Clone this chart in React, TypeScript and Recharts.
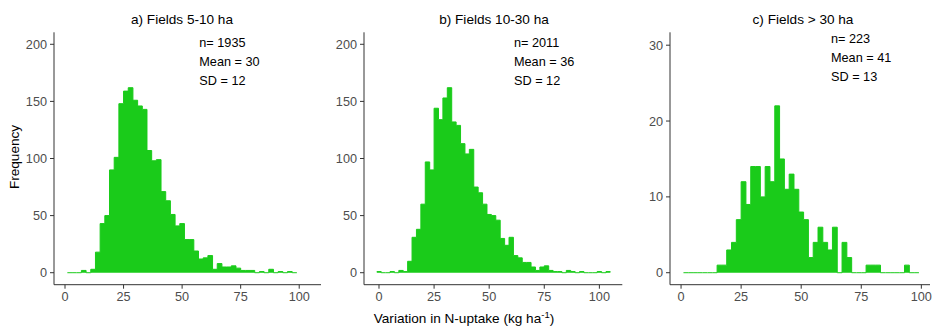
import React from 'react';
import { AreaChart, Area, XAxis, YAxis } from 'recharts';

const WIDTH = 933;
const HEIGHT = 328;
const BIN_WIDTH = 2;
const FONT = '"Liberation Sans", Arial, Helvetica, sans-serif';
const BAR_FILL = '#1acb1a';

// Histogram counts per 2 kg/ha bin, listed from the first bin centre upward.
// a) Fields 5-10 ha: bin centres 2, 4, ..., 98
const smallFirstCentre = 2;
const smallCounts = [
  0, 0, 0, 2, 0, 3, 18, 43, 50, 90,
  101, 148, 159, 162, 151, 146, 143, 107, 98, 99,
  71, 63, 51, 41, 43, 29, 29, 19, 12, 13,
  15, 3, 8, 5, 5, 6, 4, 2, 2, 2,
  0, 1, 0, 3, 0, 1, 0, 1, 0,
];

// b) Fields 10-30 ha: bin centres 0, 2, ..., 104
const mediumFirstCentre = 0;
const mediumCounts = [
  1, 0, 0, 1, 0, 2, 1, 10, 31, 38,
  60, 97, 90, 144, 134, 153, 162, 132, 129, 113,
  104, 108, 75, 70, 60, 51, 50, 46, 30, 24,
  31, 15, 13, 9, 9, 5, 2, 5, 6, 2,
  1, 1, 0, 2, 1, 0, 1, 0, 0, 0,
  1, 0, 1,
];

// c) Fields > 30 ha: bin centres 2, 4, ..., 98
const largeFirstCentre = 2;
const largeCounts = [
  0, 0, 0, 0, 0, 0, 0, 1, 1, 3,
  4, 7, 12, 9, 14, 14, 10, 14, 12, 22,
  15, 11, 13, 11, 8, 7, 2, 4, 6, 4,
  3, 6, 0, 4, 2, 0, 0, 0, 1, 1,
  1, 0, 0, 0, 0, 0, 1, 0, 0,
];

const xTicks = [0, 25, 50, 75, 100];
const freqTicksWide = [0, 50, 100, 150, 200];
const freqTicksNarrow = [0, 10, 20, 30];

const titles = ['a) Fields 5-10 ha', 'b) Fields 10-30 ha', 'c) Fields > 30 ha'];
const statLines = [
  ['n= 1935', 'Mean = 30', 'SD = 12'],
  ['n= 2011', 'Mean = 36', 'SD = 12'],
  ['n= 223', 'Mean = 41', 'SD = 13'],
];

// Turn bin counts into step points on the bin edges (stepAfter outline).
function toSteps(firstCentre: number, counts: number[]) {
  const start = firstCentre - BIN_WIDTH / 2;
  const pts = counts.map((n, i) => ({ x: start + i * BIN_WIDTH, n }));
  pts.push({ x: start + counts.length * BIN_WIDTH, n: counts[counts.length - 1] });
  return pts;
}

type Box = { left: number; right: number; top: number; bottom: number };

const Y_AXIS_W = 40;
const X_AXIS_H = 30;

function Histogram({
  data,
  box,
  xDomain,
  yDomain,
  yTicks,
}: {
  data: { x: number; n: number }[];
  box: Box;
  xDomain: [number, number];
  yDomain: [number, number];
  yTicks: number[];
}) {
  const tickStyle = { fill: '#4d4d4d', fontSize: 12.7, fontFamily: FONT };
  return (
    <div style={{ position: 'absolute', left: 0, top: 0 }}>
      <AreaChart
        width={WIDTH}
        height={HEIGHT}
        data={data}
        margin={{
          top: box.top,
          bottom: HEIGHT - box.bottom - X_AXIS_H,
          left: box.left - Y_AXIS_W,
          right: WIDTH - box.right,
        }}
      >
        <XAxis
          type="number"
          dataKey="x"
          domain={xDomain}
          ticks={xTicks}
          interval={0}
          allowDataOverflow
          height={X_AXIS_H}
          tickSize={4}
          tickMargin={3}
          tick={tickStyle}
          axisLine={{ stroke: '#333', strokeWidth: 1 }}
          tickLine={{ stroke: '#333', strokeWidth: 1 }}
        />
        <YAxis
          type="number"
          domain={yDomain}
          ticks={yTicks}
          interval={0}
          allowDataOverflow
          width={Y_AXIS_W}
          tickSize={4}
          tickMargin={3}
          tick={tickStyle}
          axisLine={{ stroke: '#333', strokeWidth: 1 }}
          tickLine={{ stroke: '#333', strokeWidth: 1 }}
        />
        <Area
          type="stepAfter"
          dataKey="n"
          baseValue={0}
          fill={BAR_FILL}
          fillOpacity={1}
          stroke={BAR_FILL}
          strokeWidth={1}
          dot={false}
          activeDot={false}
          isAnimationActive={false}
        />
      </AreaChart>
    </div>
  );
}

const panelBoxes: Box[] = [
  { left: 54, right: 321, top: 32.3, bottom: 284.7 },
  { left: 364, right: 622.3, top: 32.3, bottom: 284.7 },
  { left: 670, right: 930, top: 32.3, bottom: 284.7 },
];
const titleCentres = [182, 494, 803];
const statLeft = [199.3, 514, 831];
const statBaseline = [46.7, 46.7, 42.7];

export default function App() {
  return (
    <div
      style={{
        position: 'absolute',
        left: 0,
        top: 0,
        width: WIDTH,
        height: HEIGHT,
        background: '#fff',
        overflow: 'hidden',
      }}
    >
      <Histogram
        data={toSteps(smallFirstCentre, smallCounts)}
        box={panelBoxes[0]}
        xDomain={[-4.7, 109.3]}
        yDomain={[-10.5, 210.5]}
        yTicks={freqTicksWide}
      />
      <Histogram
        data={toSteps(mediumFirstCentre, mediumCounts)}
        box={panelBoxes[1]}
        xDomain={[-6.8, 110.4]}
        yDomain={[-10.5, 210.5]}
        yTicks={freqTicksWide}
      />
      <Histogram
        data={toSteps(largeFirstCentre, largeCounts)}
        box={panelBoxes[2]}
        xDomain={[-4.6, 103.6]}
        yDomain={[-1.58, 31.7]}
        yTicks={freqTicksNarrow}
      />
      <svg
        width={WIDTH}
        height={HEIGHT}
        style={{ position: 'absolute', left: 0, top: 0, pointerEvents: 'none' }}
        fontFamily={FONT}
      >
        {titles.map((t, i) => (
          <text key={t} x={titleCentres[i]} y={24} textAnchor="middle" fontSize={13.6} fill="#000">
            {t}
          </text>
        ))}
        {statLines.map((lines, i) =>
          lines.map((s, j) => (
            <text
              key={`${i}-${j}`}
              x={statLeft[i]}
              y={statBaseline[i] + j * 18.9}
              fontSize={12.7}
              fill="#000"
            >
              {s}
            </text>
          ))
        )}
        <text
          x={19}
          y={157}
          transform="rotate(-90 19 157)"
          textAnchor="middle"
          fontSize={13.6}
          fill="#000"
        >
          Frequency
        </text>
        <text x={464} y={322.5} textAnchor="middle" fontSize={13.6} fill="#000">
          Variation in N-uptake (kg ha
          <tspan dy={-5} fontSize={9.5}>-1</tspan>
          <tspan dy={5}>)</tspan>
        </text>
      </svg>
    </div>
  );
}
